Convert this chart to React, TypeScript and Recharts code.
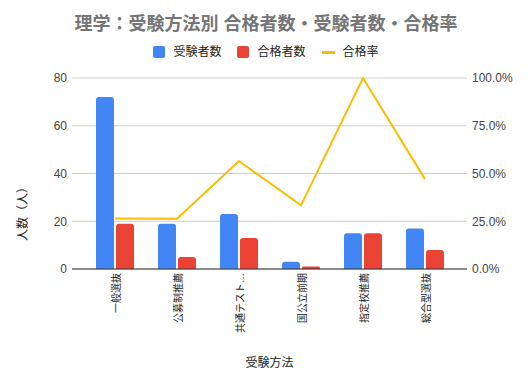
import React from "react";
import {
  ComposedChart,
  Bar,
  Line,
  XAxis,
  YAxis,
  CartesianGrid,
} from "recharts";

// 理学：受験方法別 合格者数・受験者数・合格率

const categories = [
  "一般選抜",
  "公募制推薦",
  "共通テスト…",
  "国公立前期",
  "指定校推薦",
  "総合型選抜",
];
const applicants = [72, 19, 23, 3, 15, 17];
const passed = [19, 5, 13, 1, 15, 8];
const countTicks = [0, 20, 40, 60, 80];
const rateTicks = [0, 0.25, 0.5, 0.75, 1];

const title = "理学：受験方法別 合格者数・受験者数・合格率";
const xTitle = "受験方法";
const yTitle = "人数（人）";

const BLUE = "#4285f4";
const RED = "#ea4335";
const YELLOW = "#fbbc04";
const FONT = '"Liberation Sans", Arial, "Noto Sans CJK JP", sans-serif';

const series = [
  { key: "applicants", name: "受験者数", color: BLUE, kind: "bar" },
  { key: "passed", name: "合格者数", color: RED, kind: "bar" },
  { key: "rate", name: "合格率", color: YELLOW, kind: "line" },
];

const data = categories.map((name, i) => ({
  name,
  applicants: applicants[i],
  passed: passed[i],
  rate: passed[i] / applicants[i],
}));

const CategoryTick = (props: any) => {
  const { x, y, payload } = props;
  return (
    <text
      transform={`translate(${x + 1},${y + 4}) rotate(-90)`}
      textAnchor="end"
      dominantBaseline="central"
      fontSize={10}
      fill="#222"
      fontFamily={FONT}
    >
      {payload.value}
    </text>
  );
};

const XTitle = (props: any) => {
  const { viewBox } = props;
  return (
    <text
      x={viewBox.x + viewBox.width / 2}
      y={363}
      textAnchor="middle"
      dominantBaseline="central"
      fontSize={12}
      fill="#222"
      fontFamily={FONT}
    >
      {xTitle}
    </text>
  );
};

const YTitle = () => (
  <text
    transform="translate(23,211) rotate(-90)"
    textAnchor="middle"
    dominantBaseline="central"
    fontSize={12}
    fill="#222"
    fontFamily={FONT}
  >
    {yTitle}
  </text>
);

export default function App() {
  return (
    <div
      style={{
        position: "absolute",
        left: 0,
        top: 0,
        width: 532,
        height: 384,
        background: "#fff",
        fontFamily: FONT,
      }}
    >
      <div
        style={{
          position: "absolute",
          top: 12,
          left: 0,
          width: 532,
          textAlign: "center",
          fontSize: 18,
          fontWeight: "bold",
          color: "#757575",
          lineHeight: "24px",
        }}
      >
        {title}
      </div>
      <div
        style={{
          position: "absolute",
          top: 44,
          left: 0,
          width: 532,
          display: "flex",
          justifyContent: "center",
          gap: 16,
          fontSize: 12,
          color: "#222",
          lineHeight: "16px",
        }}
      >
        {series.map((s) => (
          <div key={s.key} style={{ display: "flex", alignItems: "center", gap: 8 }}>
            {s.kind === "bar" ? (
              <span style={{ width: 12, height: 12, background: s.color, borderRadius: 2 }} />
            ) : (
              <span style={{ width: 13, height: 3, background: s.color }} />
            )}
            <span>{s.name}</span>
          </div>
        ))}
      </div>
      <ComposedChart
        width={532}
        height={384}
        data={data}
        margin={{ top: 78, right: 0, bottom: 0, left: 0 }}
        barSize={18}
        barGap={2}
      >
        <CartesianGrid yAxisId="left" vertical={false} stroke="#cccccc" />
        <XAxis
          dataKey="name"
          height={115}
          padding={{ left: 12, right: 11 }}
          tickLine={false}
          tickSize={0}
          tickMargin={0}
          axisLine={{ stroke: "#333", strokeWidth: 1 }}
          tick={<CategoryTick />}
          interval={0}
          label={<XTitle />}
        />
        <YAxis
          yAxisId="left"
          width={72}
          domain={[0, 80]}
          ticks={countTicks}
          axisLine={false}
          tickLine={false}
          tickSize={0}
          tickMargin={5}
          tick={{ fontSize: 12, fill: "#444", fontFamily: FONT }}
          label={<YTitle />}
        />
        <YAxis
          yAxisId="right"
          orientation="right"
          width={65}
          domain={[0, 1]}
          ticks={rateTicks}
          axisLine={false}
          tickLine={false}
          tickSize={0}
          tickMargin={5}
          tick={{ fontSize: 12, fill: "#444", fontFamily: FONT, textAnchor: "start" }}
          tickFormatter={(v: number) => `${(v * 100).toFixed(1)}%`}
        />
        <Bar
          yAxisId="left"
          dataKey="applicants"
          name="受験者数"
          fill={BLUE}
          radius={[3, 3, 0, 0]}
          isAnimationActive={false}
        />
        <Bar
          yAxisId="left"
          dataKey="passed"
          name="合格者数"
          fill={RED}
          radius={[3, 3, 0, 0]}
          isAnimationActive={false}
        />
        <Line
          yAxisId="right"
          dataKey="rate"
          name="合格率"
          stroke={YELLOW}
          strokeWidth={2}
          dot={false}
          activeDot={false}
          isAnimationActive={false}
        />
      </ComposedChart>
    </div>
  );
}
